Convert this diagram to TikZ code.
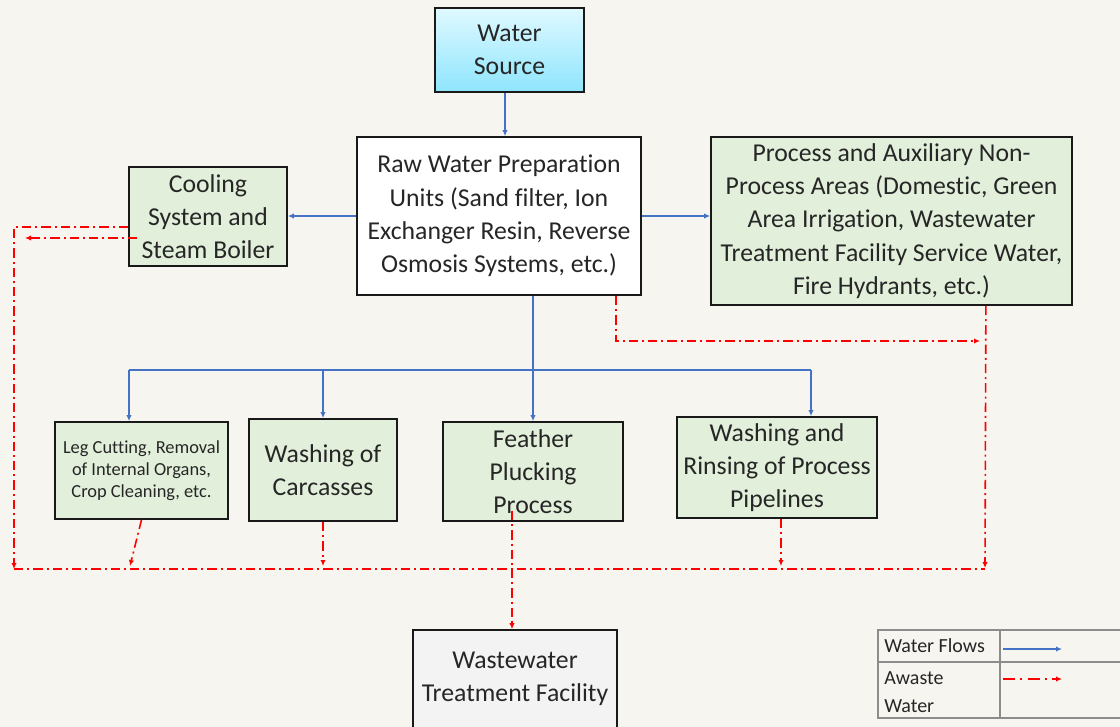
\documentclass[tikz,border=0pt]{standalone}
\usepackage{fontspec}
\setmainfont{Carlito}[Ligatures=NoCommon]
\usetikzlibrary{arrows.meta,positioning,calc}
\definecolor{paper}{HTML}{F6F5F0}
\definecolor{flowblue}{HTML}{4472C4}
\definecolor{wastered}{HTML}{FF0000}
\definecolor{lightgreen}{HTML}{E2EFDA}
\definecolor{cyantop}{HTML}{E0F9FF}
\definecolor{cyanbot}{HTML}{8EE5FD}
\definecolor{lightgray}{HTML}{F3F3F3}
\definecolor{textgray}{HTML}{262626}
\definecolor{gridgray}{HTML}{8C8C8C}

\begin{document}
\begin{tikzpicture}[x=0.75pt,y=-0.75pt,
  box/.style={draw=black!90,line width=1.3pt,align=center,inner sep=0pt,
    text=textgray,font=\fontsize{19.3}{25}\selectfont,fill=lightgreen},
  srcbox/.style={box,top color=cyantop,bottom color=cyanbot},
  prepbox/.style={box,fill=white},
  wwtfbox/.style={box,fill=lightgray},
  smallbox/.style={box,font=\fontsize{13.8}{16.5}\selectfont},
  lgtext/.style={inner sep=0pt,text=textgray,align=left,
    font=\fontsize{15}{21}\selectfont},
  line/.style={draw=flowblue,line width=1.1pt},
  flow/.style={line,-{Latex[length=4.5pt,width=4pt]}},
  wasteline/.style={draw=wastered,line width=1.2pt,
    dash pattern=on 7pt off 3pt on 1.5pt off 3pt},
  waste/.style={wasteline,-{Latex[length=4.5pt,width=4pt]}},
  grid/.style={draw=gridgray,line width=1.1pt}
]
\fill[paper] (0,0) rectangle (1120,727);
\useasboundingbox (0,0) rectangle (1120,727);

% boxes
\node[srcbox,minimum width=111.75pt,minimum height=63pt] (source) at (509.5,50) {Water\\Source};
\node[prepbox,minimum width=213pt,minimum height=118.5pt] (raw) at (499,216)
  {Raw Water Preparation\\Units (Sand filter, Ion\\Exchanger Resin, Reverse\\Osmosis Systems, etc.)};
\node[box,minimum width=118.5pt,minimum height=74.25pt] (cool) at (208,216.5)
  {Cooling\\System and\\Steam Boiler};
\node[box,minimum width=270.75pt,minimum height=126pt] (proc) at (891.5,221)
  {Process and Auxiliary Non-\\Process Areas (Domestic, Green\\Area Irrigation, Wastewater\\Treatment Facility Service Water,\\Fire Hydrants, etc.)};
\node[smallbox,minimum width=129.75pt,minimum height=72.75pt] (leg) at (141.5,470.5)
  {Leg Cutting, Removal\\of Internal Organs,\\Crop Cleaning, etc.};
\node[box,minimum width=111pt,minimum height=76.5pt] (wash) at (323,470)
  {Washing of\\Carcasses};
\node[box,minimum width=135pt,minimum height=74.25pt] (feat) at (533,471.5)
  {Feather\\Plucking\\Process};
\node[box,minimum width=150pt,minimum height=75.75pt] (rinse) at (777,467.5)
  {Washing and\\Rinsing of Process\\Pipelines};
\node[wwtfbox,minimum width=153pt,minimum height=73.5pt] (wwtf) at (515,679)
  {Wastewater\\Treatment Facility};

% helper points
\coordinate (busL) at (129,370);
\coordinate (busR) at (811,370);
\coordinate (cornerBL) at (14,569);
\coordinate (cornerBR) at (985,569);
\coordinate (retend) at (25,238);
\coordinate (bypassend) at (980,341);
\coordinate (legdrop) at (130,566);

% water flows
\draw[flow] ($(source.south)+(-4.5,0)$) -- ($(source.south |- raw.north)+(-4.5,0)$);
\draw[flow] (raw.west) -- (raw.west -| cool.east);
\draw[flow] (raw.east) -- (raw.east -| proc.west);
\draw[flow] (raw.south -| feat.north) -- (feat.north);
\draw[line] (busL) -- (busR);
\draw[flow] (busL) -- (busL |- leg.north);
\draw[flow] (busL -| wash.north) -- (wash.north);
\draw[flow] (busR) -- (busR |- rinse.north);

% waste water
\draw[waste] ($(cool.west)+(0,10.5)$) -| (cornerBL);
\draw[waste] ($(cool.west)+(9,21.5)$) -- (retend);
\draw[wasteline] (cornerBL) -- (cornerBR);
\draw[waste] (leg.south) -- (legdrop);
\draw[waste] (wash.south) -- ($(wash.south |- cornerBL)+(0,-3)$);
\draw[waste] ($(rinse.south)+(4,0)$) -- ($(rinse.south |- cornerBL)+(4,-3)$);
\draw[waste] ($(feat.south -| wwtf.north)+(-3,-11)$) -- ($(wwtf.north)+(-3,0)$);
\draw[waste] ($(raw.south east)+(-26,0)$) |- (bypassend);
\draw[waste] ($(proc.south east)+(-87,0)$) -- ($(cornerBR)+(0,-1)$);

% legend
\draw[grid] (878,630) rectangle (1130,718);
\draw[grid] (878,662) -- (1130,662);
\draw[grid] (1000,630) -- (1000,718);
\node[lgtext,anchor=west] (lgflow) at (884,646) {Water Flows};
\node[lgtext,anchor=west] (lgwaste) at (884,692) {Awaste\\Water};
\coordinate (lgflowA) at (1003,649);
\coordinate (lgflowB) at (1062,649);
\coordinate (lgwasteA) at (1003,679);
\coordinate (lgwasteB) at (1062,679);
\draw[flow] (lgflowA) -- (lgflowB);
\draw[waste,dash pattern=on 9pt off 4pt on 1.5pt off 4pt] (lgwasteA) -- (lgwasteB);
\end{tikzpicture}
\end{document}
